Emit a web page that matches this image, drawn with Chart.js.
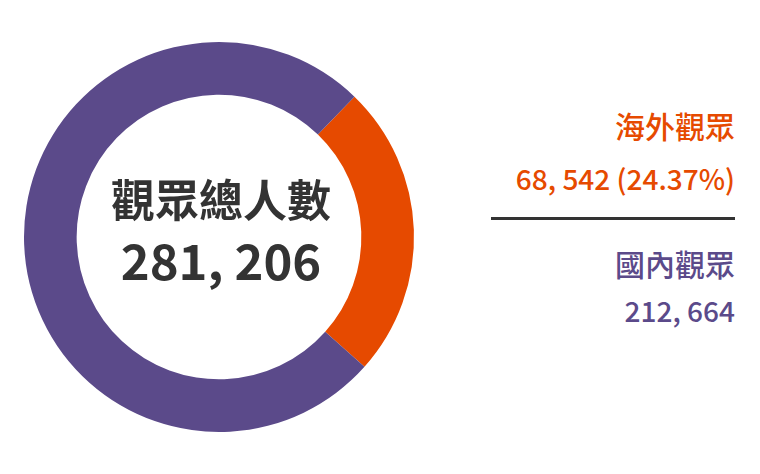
<!DOCTYPE html>
<html>
<head>
<meta charset="utf-8">
<script src="https://cdn.jsdelivr.net/npm/chart.js@4/dist/chart.umd.min.js"></script>
<style>
  html, body { margin: 0; padding: 0; background: #fff; }
  body { width: 760px; height: 474px; position: relative; overflow: hidden;
         font-family: "Noto Sans CJK TC", "Noto Sans", sans-serif; }
  #wrap { position: absolute; left: 0; top: 0; width: 438px; height: 474px; }
  .center { position: absolute; left: 2px; width: 438px; text-align: center; color: #333; font-weight: 700; }
  .side { position: absolute; right: 25px; text-align: right; white-space: nowrap; font-weight: 500; }
  #rule { position: absolute; left: 491px; width: 244px; top: 217px; height: 3px; background: #333; }
</style>
</head>
<body>
<div id="wrap"><canvas id="myChart"></canvas></div>
<div class="center" id="ctitle" style="top:170px;font-size:44px;line-height:56px;"></div>
<div class="center" id="ctotal" style="top:228px;font-size:49px;line-height:62px;"></div>
<div class="side" id="l0" style="top:104px;font-size:30px;line-height:42px;"></div>
<div class="side" id="v0" style="top:158px;font-size:28px;line-height:40px;"></div>
<div id="rule"></div>
<div class="side" id="l1" style="top:242px;font-size:30px;line-height:42px;"></div>
<div class="side" id="v1" style="top:290px;font-size:28px;line-height:40px;"></div>
<script>
var labels = ['海外觀眾', '國內觀眾'];
var counts = [68542, 212664];
var colors = ['#e64a00', '#5b4a8a'];
var centerTitle = '觀眾總人數';

function fmt(n) {
  return n.toLocaleString('en-US').replace(/,/g, ', ');
}

var total = counts.reduce(function(a, b) { return a + b; }, 0);
var pct = (counts[0] / total * 100).toFixed(2);

document.getElementById('ctitle').textContent = centerTitle;
document.getElementById('ctotal').textContent = fmt(total);
document.getElementById('l0').textContent = labels[0];
document.getElementById('l0').style.color = colors[0];
document.getElementById('v0').textContent = fmt(counts[0]) + ' (' + pct + '%)';
document.getElementById('v0').style.color = colors[0];
document.getElementById('l1').textContent = labels[1];
document.getElementById('l1').style.color = colors[1];
document.getElementById('v1').textContent = fmt(counts[1]);
document.getElementById('v1').style.color = colors[1];

var chart = new Chart('myChart', {
  type: 'doughnut',
  data: {
    labels: labels,
    datasets: [{
      data: counts,
      backgroundColor: colors,
      borderWidth: 0
    }]
  },
  options: {
    responsive: true,
    maintainAspectRatio: false,
    animation: false,
    rotation: 44,
    cutout: '73%',
    layout: { padding: { top: 42, bottom: 42, left: 24, right: 24 } },
    plugins: {
      legend: { display: false },
      tooltip: { enabled: false }
    }
  }
});
</script>
</body>
</html>
